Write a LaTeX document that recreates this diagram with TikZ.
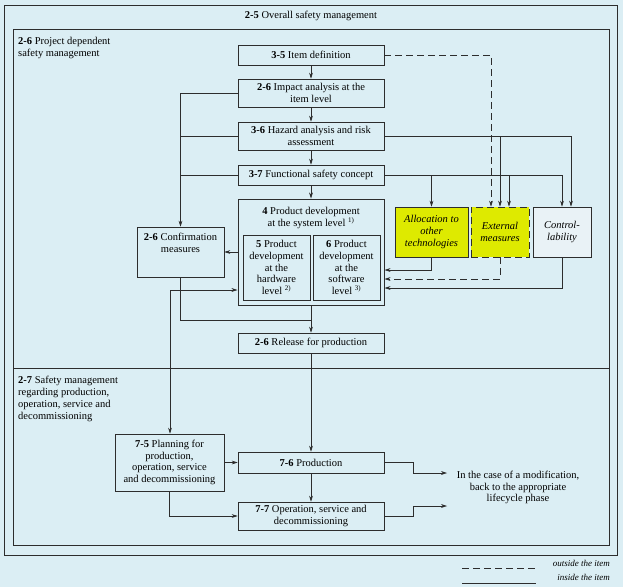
\documentclass[tikz,border=0pt]{standalone}
\usepackage{fontspec}
\setmainfont{Liberation Serif}
\usetikzlibrary{arrows.meta}

\definecolor{bgblue}{RGB}{219,238,244}
\definecolor{linegray}{RGB}{45,45,45}
\definecolor{techyellow}{RGB}{222,234,0}
\definecolor{ctrlfill}{RGB}{233,242,246}

\tikzset{
  box/.style={draw=linegray, line width=0.7pt, fill=bgblue, align=center, inner sep=1pt,
    font=\fontsize{10.5}{11.8}\selectfont},
  devbox/.style={box, line width=0.95pt},
  techbox/.style={box, fill=techyellow, minimum width=58, minimum height=50,
    font=\fontsize{10.5}{11.8}\selectfont\itshape},
  plain/.style={align=center, inner sep=0pt, font=\fontsize{10.5}{11.8}\selectfont},
  frame/.style={draw=linegray, line width=0.8pt},
  flow/.style={draw=linegray, line width=0.6pt, ->},
  longdash/.style={dash pattern=on 7pt off 4pt},
}

\begin{document}
\begin{tikzpicture}[x=1pt, y=-1pt, >={Stealth[length=6pt,width=3.8pt]}]
  \useasboundingbox (0,0) rectangle (623,587);
  \fill[bgblue] (0,0) rectangle (623,587);

  % Draw frames
  \draw[frame] (4,5) rectangle (617,555);
  \draw[frame] (13,29) rectangle (609,545);
  \draw[frame] (13,368) -- (609,368);
  \node[plain] (overall) at (311,16) {\textbf{2-5} Overall safety management};
  \node[plain, anchor=north west, align=left] (projmgmt) at (18,37)
    {\textbf{2-6} Project dependent\\safety management};
  \node[plain, anchor=north west, align=left] (prodmgmt) at (18,376)
    {\textbf{2-7} Safety management\\regarding production,\\operation, service and\\decommissioning};

  % Main column
  \node[box, minimum width=146, minimum height=20] (item) at (311,55) {\textbf{3-5} Item definition};
  \node[box, minimum width=146, minimum height=28] (impact) at (311,93) {\textbf{2-6} Impact analysis at the\\item level};
  \node[box, minimum width=146, minimum height=28] (hazard) at (311,136) {\textbf{3-6} Hazard analysis and risk\\assessment};
  \node[box, minimum width=146, minimum height=20] (fsc) at (311,175) {\textbf{3-7} Functional safety concept};
  \node[devbox, minimum width=146, minimum height=106] (pd) at (311,252) {};
  \node[plain] (pdtxt) at (311,218) {\textbf{4} Product development\\at the system level \textsuperscript{\scriptsize 1)}};
  \node[devbox, minimum width=67, minimum height=65] (hw) at (276.5,267.5)
    {\textbf{5} Product\\development\\at the\\hardware\\level \textsuperscript{\scriptsize 2)}};
  \node[devbox, minimum width=67, minimum height=65] (sw) at (346.5,267.5)
    {\textbf{6} Product\\development\\at the\\software\\level \textsuperscript{\scriptsize 3)}};
  \node[box, minimum width=146, minimum height=20] (release) at (311,343) {\textbf{2-6} Release for production};

  % Confirmation measures
  \node[box, minimum width=87, minimum height=50] (conf) at (180.5,252) {};
  \node[plain] (conftxt) at (180.5,242.5) {\textbf{2-6} Confirmation\\measures};

  % Other technologies, external measures, controllability
  \node[techbox, minimum width=73] (alloc) at (431.5,232) {Allocation to\\other\\technologies};
  \node[techbox, longdash] (ext) at (500,232) {External\\measures};
  \node[techbox, fill=ctrlfill] (ctrl) at (562,232) {Control-\\lability};
  \coordinate (extleft) at ([xshift=-9pt]ext.north);
  \coordinate (extright) at ([xshift=9pt]ext.north);
  \coordinate (ctrlright) at ([xshift=9pt]ctrl.north);

  % Production phase
  \node[box, minimum width=109, minimum height=57] (plan) at (169.5,462.5)
    {\textbf{7-5} Planning for\\production,\\operation, service\\and decommissioning};
  \node[box, minimum width=146, minimum height=21] (prod) at (311,462.5) {\textbf{7-6} Production};
  \node[box, minimum width=146, minimum height=28] (oper) at (311,516) {\textbf{7-7} Operation, service and\\decommissioning};
  \node[plain] (modif) at (518,487.5) {In the case of a modification,\\back to the appropriate\\lifecycle phase};

  % Draw main flow
  \draw[flow] (item) -- (impact);
  \draw[flow] (impact) -- (hazard);
  \draw[flow] (hazard) -- (fsc);
  \draw[flow] (fsc) -- (pd);
  \draw[flow] (pd) -- (release);
  \draw[flow] (release) -- (prod);
  \draw[flow] (prod) -- (oper);

  % Left side to confirmation measures
  \draw[flow] (impact.west) -| (conf.north);
  \draw[flow, -] (hazard.west) -- (hazard.west -| conf.north);
  \draw[flow, -] (fsc.west) -- (fsc.west -| conf.north);
  \draw[flow] (pd.west |- conf.east) -- (conf.east);
  \draw[flow, -] (conf.south) |- ([yshift=-15pt]pd.south);

  % Right side
  \draw[flow, longdash] (item.east) -| (extleft);
  \draw[flow] (hazard.east) -| (ctrlright);
  \draw[flow] (hazard.east -| ext.north) -- (ext.north);
  \draw[flow] (fsc.east) -| (ctrl.north);
  \draw[flow] (fsc.east -| alloc.north) -- (alloc.north);
  \draw[flow] (fsc.east -| extright) -- (extright);
  \draw[flow] (alloc.south) |- ([yshift=-18pt]pd.east);
  \draw[flow, longdash] (ext.south) |- ([yshift=-27pt]pd.east);
  \draw[flow] (ctrl.south) |- ([yshift=-36pt]pd.east);

  % Planning
  \coordinate (planup) at (170,290);
  \draw[flow, <->] (pd.west |- planup) -- (planup) -- (plan.north -| planup);
  \draw[flow] (plan.east) -- (prod.west);
  \draw[flow] (plan.south) |- (oper.west);

  % Back to lifecycle
  \coordinate (modin1) at (447,473);
  \coordinate (modin2) at (447,506);
  \draw[flow] (prod.east) -- ++(29,0) |- (modin1);
  \draw[flow] (oper.east) -- ++(29,0) |- (modin2);

  % Legend
  \draw[linegray, line width=0.8pt, longdash] (462,568) -- (536,568);
  \draw[linegray, line width=0.8pt] (462,583) -- (536,583);
  \node[plain, anchor=east, font=\fontsize{9}{10}\selectfont\itshape] (outside) at (610,563) {outside the item};
  \node[plain, anchor=east, font=\fontsize{9}{10}\selectfont\itshape] (inside) at (610,577) {inside the item};
\end{tikzpicture}
\end{document}
